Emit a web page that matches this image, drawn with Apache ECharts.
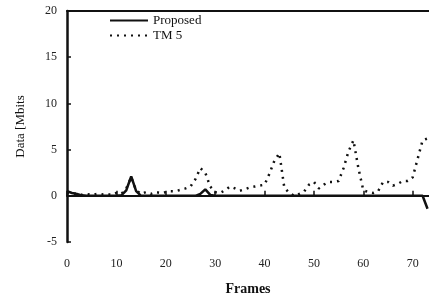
<!DOCTYPE html>
<html>
<head>
<meta charset="UTF-8">
<title>Data vs Frames</title>
<style type="text/css">
html, body { margin: 0; padding: 0; background: #fff; }
#chart { width: 429px; height: 297px; }
</style>
<script type="text/javascript" src="https://cdn.jsdelivr.net/npm/echarts@6/dist/echarts.min.js"></script>
</head>
<body>
<div id="chart"></div>
<script type="text/javascript">
// frame numbers
var frames = [0,1,2,3,4,5,6,7,8,9,10,11,12,13,14,15,16,17,18,19,20,21,22,23,24,25,26,27,28,29,30,31,32,33,34,35,36,37,38,39,40,41,42,43,44,45,46,47,48,49,50,51,52,53,54,55,56,57,58,59,60,61,62,63,64,65,66,67,68,69,70,71,72,73];
// Proposed (solid line)
var proposed = [0.5,0.3,0.2,0.05,0,0,0,0,0,0,0,0.05,0.6,2.1,0.5,0,0,0,0,0,0,0,0,0,0,0,0,0.2,0.7,0.1,0,0,0,0,0,0,0,0,0,0,0,0,0,0,0,0,0,0,0,0,0,0,0,0,0,0,0,0,0,0,0,0,0,0,0,0,0,0,0,0,0,0,0,-1.4];
// TM 5 (dotted line)
var tm5 = [0.3,0.2,0.25,0.1,0.2,0.1,0.2,0.15,0.2,0.1,0.3,0.2,0.8,2.0,0.6,0.2,0.4,0.2,0.4,0.3,0.4,0.5,0.5,0.65,0.8,1.0,1.8,3.0,2.5,1.0,0.4,0.3,0.6,1.0,0.8,0.55,0.7,0.9,1.0,1.1,1.2,2.4,3.8,4.6,0.9,0.3,0.0,0.2,0.45,1.2,1.5,0.8,1.2,1.5,1.5,1.6,3.0,4.8,6.0,3.0,0.6,0.4,0.3,0.5,1.5,1.5,1.1,1.3,1.6,1.6,2.0,4.0,6.0,6.2];
var yTicks = [-5, 0, 5, 10, 15, 20];
var xTicks = [0, 10, 20, 30, 40, 50, 60, 70];

var serif = "'Liberation Serif', 'DejaVu Serif', serif";

function pairs(xs, ys) {
	var out = [];
	for (var i = 0; i < xs.length; i++) out.push([xs[i], ys[i]]);
	return out;
}

var chart = echarts.init(document.getElementById('chart'));
var option = {
	animation: false,
	backgroundColor: '#fff',
	grid: { left: 67, right: 0, top: 11, bottom: 55, containLabel: false, outerBoundsMode: 'none' },
	legend: {
		show: true,
		orient: 'vertical',
		left: 104,
		top: 9,
		itemWidth: 38,
		itemHeight: 10,
		itemGap: 2,
		itemStyle: { opacity: 0 },
		textStyle: { fontFamily: serif, fontSize: 13, color: '#111' },
		data: ['Proposed', 'TM 5']
	},
	xAxis: [{
		type: 'value',
		min: 0,
		max: 73.3,
		interval: 10,
		name: 'Frames',
		nameLocation: 'middle',
		nameGap: 40,
		nameTextStyle: { fontFamily: serif, fontSize: 14, fontWeight: 'bold', color: '#111' },
		axisLine: { lineStyle: { color: '#111', width: 2 } },
		axisTick: { inside: true, length: 5, lineStyle: { color: '#111', width: 1.5 } },
		axisLabel: {
			margin: 16, fontFamily: serif, fontSize: 12, color: '#222', showMaxLabel: false,
			formatter: function (v) { return xTicks.indexOf(v) >= 0 ? String(v) : ''; }
		},
		splitLine: { show: false }
	}, {
		type: 'value',
		position: 'top',
		min: 0,
		max: 73.3,
		axisLine: { show: true, lineStyle: { color: '#111', width: 2 } },
		axisTick: { show: false },
		axisLabel: { show: false },
		splitLine: { show: false }
	}],
	yAxis: {
		type: 'value',
		min: -5,
		max: 20,
		interval: 5,
		name: 'Data [Mbits',
		nameLocation: 'middle',
		nameGap: 40,
		nameRotate: 90,
		nameTextStyle: { fontFamily: serif, fontSize: 13, color: '#111' },
		axisLine: { show: true, lineStyle: { color: '#111', width: 2.5 } },
		axisTick: { inside: true, length: 4, lineStyle: { color: '#111', width: 1.5 } },
		axisLabel: {
			margin: 10, fontFamily: serif, fontSize: 12, color: '#222',
			formatter: function (v) { return yTicks.indexOf(v) >= 0 ? String(v) : ''; }
		},
		splitLine: { show: false }
	},
	series: [{
		name: 'Proposed',
		type: 'line',
		data: pairs(frames, proposed),
		showSymbol: false,
		symbol: 'none',
		lineStyle: { color: '#111', width: 2.5 },
		itemStyle: { color: '#111' },
		z: 3
	}, {
		name: 'TM 5',
		type: 'line',
		data: pairs(frames, tm5),
		showSymbol: false,
		symbol: 'none',
		lineStyle: { color: '#111', width: 2.5, type: [2, 5] },
		itemStyle: { color: '#111' },
		z: 2
	}]
};
chart.setOption(option);
</script>
</body>
</html>
